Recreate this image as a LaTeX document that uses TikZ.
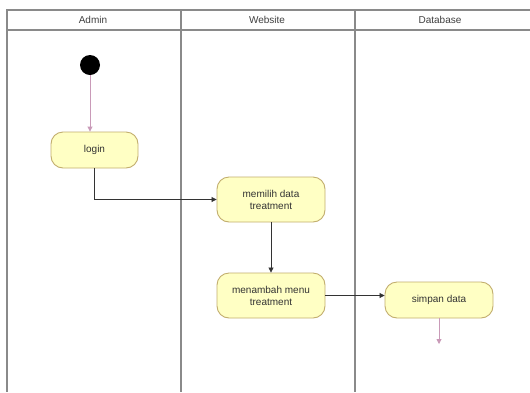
\documentclass[tikz,border=0pt]{standalone}
\usepackage{fontspec}
\setmainfont{Liberation Sans}
\usetikzlibrary{arrows.meta}
\definecolor{lanegray}{HTML}{8A8A8A}
\definecolor{boxfill}{HTML}{FFFFC4}
\definecolor{boxline}{HTML}{C2AE6E}
\definecolor{pinkline}{HTML}{C99AB8}
\definecolor{edgedark}{HTML}{333333}
\begin{document}
\begin{tikzpicture}[x=1pt,y=-1pt,
  lane/.style={draw=lanegray,line width=1.3pt},
  header/.style={font=\fontsize{10}{11}\selectfont,text=black!75},
  action/.style={draw=boxline,fill=boxfill,line width=0.9pt,rounded corners=12pt,
    align=center,font=\fontsize{10}{12}\selectfont,text=black!80,inner sep=0pt},
  startnode/.style={circle,fill=black,minimum size=20pt,inner sep=0pt},
  flow/.style={draw=edgedark,line width=0.8pt,-{Triangle[length=5pt,width=5pt]}},
  pinkflow/.style={draw=pinkline,line width=0.9pt,-{Triangle[length=5pt,width=5pt]}}]
\useasboundingbox (0,0) rectangle (530,392);
\fill[white] (0,0) rectangle (530,392);
% swimlanes
\draw[lane] (530,10) -- (7,10) -- (7,392);
\draw[lane] (7,30) -- (530,30);
\draw[lane] (181,10) -- (181,392);
\draw[lane] (355,10) -- (355,392);
\node[header] (hadmin) at (93,20) {Admin};
\node[header] (hweb) at (267,20) {Website};
\node[header] (hdb) at (440,20) {Database};
% nodes
\node[startnode] (start) at (90,65) {};
\node[action,minimum width=87pt,minimum height=36pt] (login) at (94.5,150) {login};
\node[action,minimum width=108pt,minimum height=45pt] (memilih) at (271,199.5) {memilih data\\treatment};
\node[action,minimum width=108pt,minimum height=45pt] (menambah) at (271,295.5) {menambah menu\\treatment};
\node[action,minimum width=108pt,minimum height=36pt] (simpan) at (439,300) {simpan data};
\coordinate (endpt) at (439,344);
% connectors
\draw[pinkflow] (start) -- (start |- login.north);
\draw[flow] (login.south) |- (memilih.west);
\draw[flow] (memilih) -- (menambah);
\draw[flow] (menambah.east) -- (menambah.east -| simpan.west);
\draw[pinkflow] (simpan) -- (endpt);
\end{tikzpicture}
\end{document}
